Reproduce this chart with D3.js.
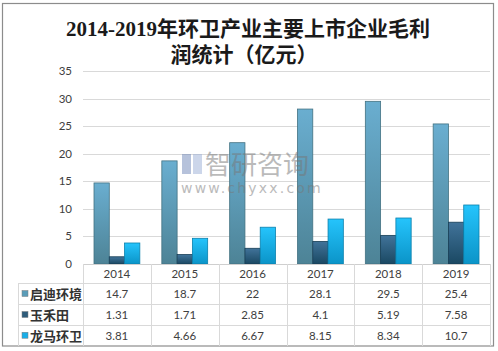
<!DOCTYPE html>
<html>
<head>
<meta charset="utf-8">
<script src="https://cdn.jsdelivr.net/npm/d3@7"></script>
<style>
  body { margin: 0; background: #fff; }
  svg { display: block; }
</style>
</head>
<body>
<div id="chart"></div>
<script>
// data
const years = ["2014", "2015", "2016", "2017", "2018", "2019"];
const seriesNames = ["启迪环境", "玉禾田", "龙马环卫"];
const qidi = [14.7, 18.7, 22, 28.1, 29.5, 25.4];
const yuhetian = [1.31, 1.71, 2.85, 4.1, 5.19, 7.58];
const longma = [3.81, 4.66, 6.67, 8.15, 8.34, 10.7];
const valueLabels = [
  ["14.7", "18.7", "22", "28.1", "29.5", "25.4"],
  ["1.31", "1.71", "2.85", "4.1", "5.19", "7.58"],
  ["3.81", "4.66", "6.67", "8.15", "8.34", "10.7"]
];
const yTicks = [0, 5, 10, 15, 20, 25, 30, 35];

const seriesData = [qidi, yuhetian, longma];
const gradStops = [
  ["#6aaed0", "#4d8396"],
  ["#41739a", "#1a4862"],
  ["#25c4fc", "#0b94c8"]
];
const legendFill = ["#5a9cb8", "#2e5c7a", "#1aaee8"];

const W = 498, H = 351;
const plotLeft = 83, plotRight = 490, plotTop = 71, plotBottom = 264;
const rowH = [283.5, 304.5, 325.5, 346];
const gridColor = "#d9d9d9";

const svg = d3.select("#chart").append("svg")
  .attr("width", W)
  .attr("height", H);

const defs = svg.append("defs");
gradStops.forEach(function(s, i) {
  let g = defs.append("linearGradient")
    .attr("id", "grad" + i)
    .attr("x1", 0).attr("y1", 0).attr("x2", 0).attr("y2", 1);
  g.append("stop").attr("offset", "0%").attr("stop-color", s[0]);
  g.append("stop").attr("offset", "100%").attr("stop-color", s[1]);
});

// outer frame
svg.append("rect")
  .attr("x", 2.5).attr("y", 3.5)
  .attr("width", 491).attr("height", 342.5)
  .attr("fill", "none")
  .attr("stroke", "#8c8c8c")
  .attr("stroke-width", 1.2);

// title
const title = svg.append("text")
  .attr("text-anchor", "middle")
  .style("font-family", "'Liberation Serif', 'Noto Sans CJK SC', serif")
  .style("font-size", "21px")
  .style("font-weight", "bold")
  .attr("fill", "#1a1a1a");
title.append("tspan").attr("x", 248).attr("y", 36).text("2014-2019年环卫产业主要上市企业毛利");
title.append("tspan").attr("x", 244).attr("y", 62).text("润统计（亿元）");

const x = d3.scaleBand()
  .domain(years)
  .range([plotLeft, plotRight]);

const xInner = d3.scaleBand()
  .domain(d3.range(3))
  .range([0, x.bandwidth()])
  .paddingOuter(0.72)
  .paddingInner(0);

const y = d3.scaleLinear()
  .domain([0, 35])
  .range([plotBottom, plotTop]);

// gridlines
svg.append("g")
  .selectAll("line")
  .data(yTicks)
  .join("line")
  .attr("x1", plotLeft).attr("x2", plotRight)
  .attr("y1", d => Math.round(y(d)) + 0.5)
  .attr("y2", d => Math.round(y(d)) + 0.5)
  .attr("stroke", gridColor)
  .attr("stroke-width", 1);

// y labels
svg.append("g")
  .selectAll("text")
  .data(yTicks)
  .join("text")
  .attr("x", 72)
  .attr("y", d => y(d) + 4)
  .attr("text-anchor", "end")
  .style("font-family", "Lato, 'Open Sans', sans-serif")
  .style("font-size", "11.5px")
  .attr("fill", "#404040")
  .text(d => d);

// bars
const groups = svg.append("g")
  .selectAll("g")
  .data(seriesData)
  .join("g")
  .attr("fill", (d, i) => "url(#grad" + i + ")")
  .attr("stroke", (d, i) => d3.color(gradStops[i][1]).darker(0.4))
  .attr("stroke-width", 0.8);

groups.selectAll("rect")
  .data((d, i) => d.map((v, j) => ({v: v, year: years[j], s: i})))
  .join("rect")
  .attr("x", d => x(d.year) + xInner(d.s))
  .attr("y", d => y(d.v))
  .attr("width", xInner.bandwidth())
  .attr("height", d => plotBottom - y(d.v));

// watermark sits over the bars
const wm = svg.append("g").attr("opacity", 0.5);
wm.append("rect").attr("x", 182).attr("y", 154).attr("width", 9).attr("height", 20).attr("fill", "#6f86b8");
wm.append("rect").attr("x", 193).attr("y", 154).attr("width", 9).attr("height", 20).attr("fill", "#9aaed6");
wm.append("text")
  .attr("x", 205).attr("y", 174)
  .style("font-family", "'Noto Sans CJK SC', sans-serif")
  .style("font-size", "26px")
  .attr("fill", "#777")
  .text("智研咨询");
wm.append("text")
  .attr("x", 181).attr("y", 193)
  .style("font-family", "'DejaVu Sans', sans-serif")
  .style("font-size", "14px")
  .style("letter-spacing", "2.2px")
  .attr("fill", "#777")
  .text("www.chyxx.com");

// data table
const table = svg.append("g")
  .attr("stroke", gridColor)
  .attr("stroke-width", 1);

table.append("line")
  .attr("x1", plotLeft).attr("x2", plotRight)
  .attr("y1", plotBottom + 0.5).attr("y2", plotBottom + 0.5)
  .attr("stroke", "#cfcfcf");

table.selectAll("line.row")
  .data(rowH.slice(0, 3))
  .join("line")
  .attr("class", "row")
  .attr("x1", 18).attr("x2", plotRight)
  .attr("y1", d => d).attr("y2", d => d);

const colEdges = years.map(yr => x(yr)).concat([plotRight]);
table.selectAll("line.col")
  .data(colEdges)
  .join("line")
  .attr("class", "col")
  .attr("x1", d => Math.round(d) + 0.5).attr("x2", d => Math.round(d) + 0.5)
  .attr("y1", plotBottom).attr("y2", 346);

table.append("line")
  .attr("x1", 18.5).attr("x2", 18.5)
  .attr("y1", rowH[0]).attr("y2", 346);

// year header
svg.append("g")
  .selectAll("text")
  .data(years)
  .join("text")
  .attr("x", d => x(d) + x.bandwidth() / 2)
  .attr("y", 278)
  .attr("text-anchor", "middle")
  .style("font-family", "Lato, 'Open Sans', sans-serif")
  .style("font-size", "11.5px")
  .attr("fill", "#404040")
  .text(d => d);

// row headers
const rowG = svg.append("g")
  .selectAll("g")
  .data(seriesNames)
  .join("g")
  .attr("transform", (d, i) => `translate(0, ${(rowH[i] + rowH[i + 1]) / 2})`);

rowG.append("rect")
  .attr("x", 22).attr("y", -3.5)
  .attr("width", 6).attr("height", 6)
  .attr("fill", (d, i) => legendFill[i])
  .attr("stroke", "#7f7f7f")
  .attr("stroke-width", 0.5);

rowG.append("text")
  .attr("x", 30)
  .attr("y", 5)
  .style("font-family", "'Liberation Serif', 'Noto Sans CJK SC', serif")
  .style("font-size", "13px")
  .style("font-weight", "bold")
  .attr("fill", "#333")
  .text(d => d);

// values
rowG.selectAll("text.val")
  .data((d, i) => valueLabels[i].map((v, j) => ({v: v, year: years[j]})))
  .join("text")
  .attr("class", "val")
  .attr("x", d => x(d.year) + x.bandwidth() / 2)
  .attr("y", 4)
  .attr("text-anchor", "middle")
  .style("font-family", "Lato, 'Open Sans', sans-serif")
  .style("font-size", "11.5px")
  .attr("fill", "#404040")
  .text(d => d.v);
</script>
</body>
</html>
